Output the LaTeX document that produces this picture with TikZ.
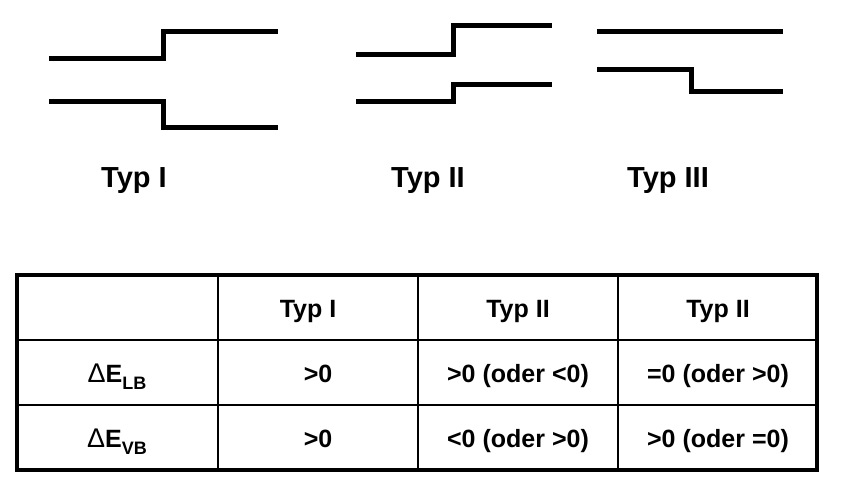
\documentclass[tikz,border=0pt]{standalone}
\usepackage{fontspec}
\setmainfont{Liberation Sans}
\newcommand\lowsub[1]{\raisebox{-0.28em}{\fontsize{18}{18}\selectfont #1}}
\begin{document}
\begin{tikzpicture}[x=1pt,y=-1pt,
  band/.style={line width=5pt,line join=miter,line cap=butt},
  frame/.style={line width=4.5pt},
  grid/.style={line width=2pt},
  biglabel/.style={font=\fontsize{29}{29}\selectfont\bfseries,anchor=base,inner sep=0pt},
  cell/.style={font=\fontsize{25}{25}\selectfont\bfseries,anchor=base,inner sep=0pt}]
\useasboundingbox (0,0) rectangle (867,494);

% band edge profiles
\draw[band] (49,59) -- (163,59) -- (163,32) -- (278,32);
\draw[band] (49,102) -- (163,102) -- (163,128) -- (278,128);
\draw[band] (356,55) -- (453,55) -- (453,26) -- (552,26);
\draw[band] (356,102) -- (453,102) -- (453,85) -- (552,85);
\draw[band] (597,32) -- (783,32);
\draw[band] (597,70) -- (691,70) -- (691,92) -- (783,92);

\node[biglabel] (t1) at (134,188) {Typ I};
\node[biglabel] (t2) at (428,188) {Typ II};
\node[biglabel] (t3) at (668,188) {Typ III};

% table
\draw[grid] (218,275) -- (218,470);
\draw[grid] (418,275) -- (418,470);
\draw[grid] (618,275) -- (618,470);
\draw[grid] (17,340) -- (817,340);
\draw[grid] (17,405) -- (817,405);
\draw[frame] (17,275) rectangle (817,470);

\node[cell] (h1) at (308,317) {Typ I};
\node[cell] (h2) at (518,317) {Typ II};
\node[cell] (h3) at (718,317) {Typ II};

\node[cell] (r1) at (117,382) {{\mdseries\fontsize{27}{27}\selectfont Δ}E\lowsub{LB}};
\node[cell] (a1) at (318,382) {>0};
\node[cell] (b1) at (518,382) {>0 (oder <0)};
\node[cell] (c1) at (718,382) {=0 (oder >0)};

\node[cell] (r2) at (117,447) {{\mdseries\fontsize{27}{27}\selectfont Δ}E\lowsub{VB}};
\node[cell] (a2) at (318,447) {>0};
\node[cell] (b2) at (518,447) {<0 (oder >0)};
\node[cell] (c2) at (718,447) {>0 (oder =0)};
\end{tikzpicture}
\end{document}
